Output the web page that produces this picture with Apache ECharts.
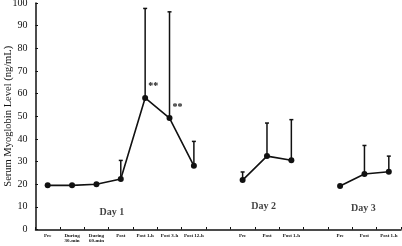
<!DOCTYPE html>
<html><head><meta charset="utf-8">
<script src="https://cdn.jsdelivr.net/npm/echarts@6/dist/echarts.min.js"></script>
<style>html,body{margin:0;padding:0;background:#fff}#c{width:402px;height:246px}</style>
</head><body><div id="c"></div>
<script>
var categories = ['Pre', 'During\n30-min', 'During\n60-min', 'Post', 'Post 1-h', 'Post 3-h', 'Post 12-h', '',
  'Pre', 'Post', 'Post 1-h', '', 'Pre', 'Post', 'Post 1-h'];
var meanValues = [19.5, 19.5, 20, 22.3, 58.1, 49.2, 28.1, null, 21.8, 32.4, 30.6, null, 19.2, 24.5, 25.5];
var upperValues = [null, null, null, 30.5, 97.6, 96.1, 38.9, null, 25.4, 47, 48.5, null, null, 37.1, 32.4];
var significance = ['', '', '', '', '**', '**', '', '', '', '', '', '', '', '', ''];
var dayLabels = ['Day 1', 'Day 2', 'Day 3'];
var dayLabelX = [2.63, 8.86, 12.96];
var dayLabelY = [7.4, 10, 9.1];
var yTicks = [0, 10, 20, 30, 40, 50, 60, 70, 80, 90, 100];

var serif = 'Liberation Serif';
var lineData = meanValues.map(function (v, i) {
  if (significance[i]) {
    return { value: v, label: { show: true, formatter: significance[i], position: 'right', offset: [-5, -11],
      fontFamily: serif, fontSize: 10, fontWeight: 'bold', color: '#111' } };
  }
  return v;
});
var errData = [];
upperValues.forEach(function (u, i) { if (u != null) errData.push([i, meanValues[i], u]); });
var dayData = dayLabels.map(function (t, i) { return { value: [dayLabelX[i], dayLabelY[i]], name: t }; });

var chart = echarts.init(document.getElementById('c'));
chart.setOption({
  animation: false,
  grid: { left: 35.5, right: 1, top: 3, bottom: 16.5, containLabel: false, outerBoundsMode: 'none' },
  xAxis: [{
    type: 'category', data: categories, boundaryGap: true,
    axisLine: { onZero: false, lineStyle: { color: '#111', width: 1.5 } },
    axisTick: { show: true, inside: true, length: 2.5, alignWithLabel: false, lineStyle: { color: '#111', width: 1 } },
    axisLabel: { interval: 0, fontFamily: serif, fontSize: 5, fontWeight: 'bold', color: '#111', lineHeight: 5.5, margin: 3 }
  }, {
    type: 'value', min: -0.5, max: 14.5, show: false
  }],
  yAxis: {
    type: 'value', min: yTicks[0], max: yTicks[yTicks.length - 1], interval: 10,
    name: 'Serum Myoglobin Level (ng/mL)', nameLocation: 'middle', nameGap: 22, nameMoveOverlap: false,
    nameTextStyle: { fontFamily: serif, fontSize: 10.5, color: '#111' },
    axisLine: { show: true, onZero: false, lineStyle: { color: '#111', width: 1.5 } },
    axisTick: { show: true, inside: true, length: 2.5, lineStyle: { color: '#111' } },
    axisLabel: { fontFamily: serif, fontSize: 10, color: '#111', margin: 8 },
    splitLine: { show: false }
  },
  series: [{
    type: 'custom', xAxisIndex: 0, data: errData, z: 1,
    renderItem: function (params, api) {
      var p0 = api.coord([api.value(0), api.value(1)]);
      var p1 = api.coord([api.value(0), api.value(2)]);
      var st = { stroke: '#111', lineWidth: 1.5 };
      return { type: 'group', children: [
        { type: 'line', shape: { x1: p0[0], y1: p0[1], x2: p1[0], y2: p1[1] }, style: st },
        { type: 'line', shape: { x1: p1[0] - 2, y1: p1[1], x2: p1[0] + 2, y2: p1[1] }, style: st }
      ]};
    }
  }, {
    type: 'line', xAxisIndex: 0, data: lineData, connectNulls: false, z: 3,
    symbol: 'circle', symbolSize: 6, showSymbol: true,
    itemStyle: { color: '#111' }, lineStyle: { color: '#111', width: 1.6 }
  }, {
    type: 'scatter', xAxisIndex: 1, data: dayData, symbolSize: 0,
    label: { show: true, position: 'inside', formatter: '{b}', fontFamily: serif, fontSize: 10, fontWeight: 'bold', color: '#111' }
  }]
});
</script></body></html>
